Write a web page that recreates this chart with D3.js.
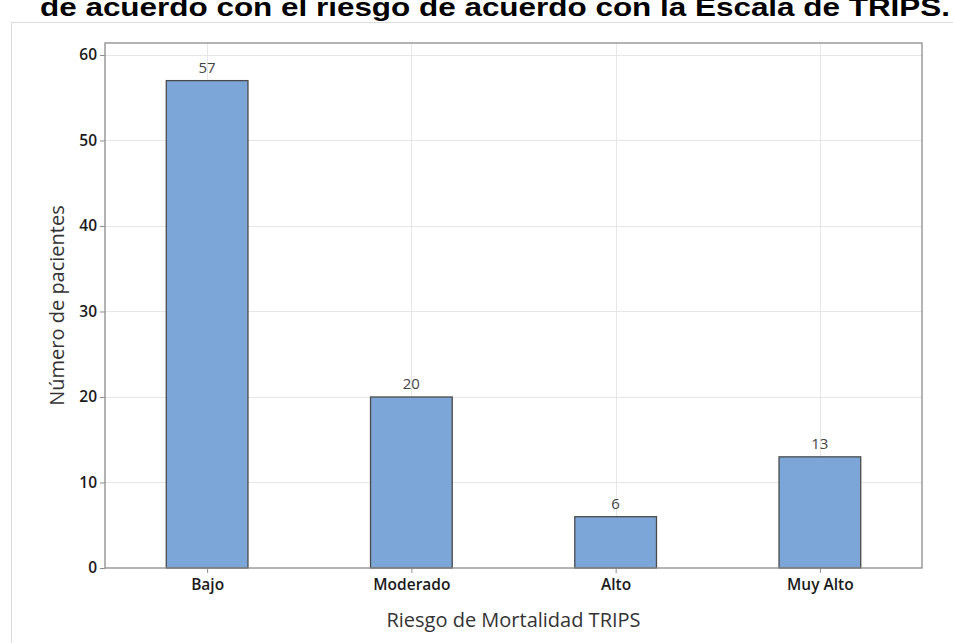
<!DOCTYPE html>
<html>
<head>
<meta charset="utf-8">
<script src="https://cdn.jsdelivr.net/npm/d3@7"></script>
<style>
  html, body { margin: 0; padding: 0; background: #fff; }
  svg { display: block; }
</style>
</head>
<body>
<svg id="chart" width="953" height="643"></svg>
<script>
// Patients per TRIPS mortality-risk category
const categories = ["Bajo", "Moderado", "Alto", "Muy Alto"];
const patients = [57, 20, 6, 13];
const yTicks = [0, 10, 20, 30, 40, 50, 60];

const titleText = "de acuerdo con el riesgo de acuerdo con la Escala de TRIPS.";
const xTitle = "Riesgo de Mortalidad TRIPS";
const yTitle = "Número de pacientes";

const W = 953, H = 643;
const plot = { left: 105, right: 922, top: 43, bottom: 568 };
const uiFont = "'Open Sans', 'Noto Sans', sans-serif";

const svg = d3.select("#chart");

// Caption line (top of the text runs off the page)
svg.append("text")
  .attr("x", 40).attr("y", 16)
  .attr("font-family", "'Liberation Sans', Arial, sans-serif")
  .attr("font-weight", "bold")
  .attr("font-size", 25)
  .attr("fill", "#000")
  .attr("textLength", 910)
  .attr("lengthAdjust", "spacingAndGlyphs")
  .text(titleText);

// Outer graph frame
svg.append("rect")
  .attr("x", 11.5).attr("y", 22.5)
  .attr("width", W).attr("height", H)
  .attr("fill", "none")
  .attr("stroke", "#dcdcdc")
  .attr("stroke-width", 1);

const x = d3.scalePoint().domain(categories).range([plot.left, plot.right]).padding(0.5);
const step = x.step();
const barW = step * 0.4;
const y = d3.scaleLinear().domain([0, 61.4]).range([plot.bottom, plot.top]);

// Gridlines
const grid = svg.append("g").attr("stroke", "#e6e6e6").attr("stroke-width", 1);
grid.selectAll("line.h").data(yTicks.filter(t => t > 0)).join("line")
  .attr("x1", plot.left).attr("x2", plot.right)
  .attr("y1", d => Math.round(y(d)) + 0.5).attr("y2", d => Math.round(y(d)) + 0.5);
grid.selectAll("line.v").data(categories).join("line")
  .attr("x1", d => Math.round(x(d)) + 0.5).attr("x2", d => Math.round(x(d)) + 0.5)
  .attr("y1", plot.top).attr("y2", plot.bottom);

// Bars
svg.append("g").selectAll("rect").data(categories).join("rect")
  .attr("x", (d) => x(d) - barW / 2)
  .attr("y", (d, i) => y(patients[i]))
  .attr("width", barW)
  .attr("height", (d, i) => y(0) - y(patients[i]))
  .attr("fill", "#7ca6d8")
  .attr("stroke", "#4a4a4a")
  .attr("stroke-width", 1.3);

// Value labels
svg.append("g").selectAll("text").data(categories).join("text")
  .attr("x", d => x(d))
  .attr("y", (d, i) => y(patients[i]) - 8)
  .attr("text-anchor", "middle")
  .attr("font-family", uiFont)
  .attr("font-size", 15)
  .attr("fill", "#444")
  .text((d, i) => patients[i]);

// Plot border
svg.append("rect")
  .attr("x", plot.left).attr("y", plot.top)
  .attr("width", plot.right - plot.left).attr("height", plot.bottom - plot.top)
  .attr("fill", "none")
  .attr("stroke", "#8c8c8c")
  .attr("stroke-width", 1.3);

// Y axis
const yAxis = svg.append("g")
  .attr("transform", `translate(${plot.left},0)`)
  .call(d3.axisLeft(y).tickValues(yTicks).tickSize(5).tickPadding(3).tickFormat(d3.format("d")));
yAxis.select(".domain").remove();
yAxis.selectAll(".tick line").attr("stroke", "#8c8c8c");
yAxis.selectAll(".tick text")
  .attr("font-family", uiFont).attr("font-weight", 600)
  .attr("font-size", 15.5).attr("fill", "#1a1a1a");

// X axis
const xAxis = svg.append("g")
  .attr("transform", `translate(0,${plot.bottom})`)
  .call(d3.axisBottom(x).tickSize(5).tickPadding(6));
xAxis.select(".domain").remove();
xAxis.selectAll(".tick line").attr("stroke", "#8c8c8c");
xAxis.selectAll(".tick text")
  .attr("font-family", uiFont).attr("font-weight", 600)
  .attr("font-size", 15.5).attr("fill", "#1a1a1a");

// Axis titles
svg.append("text")
  .attr("x", (plot.left + plot.right) / 2).attr("y", 627)
  .attr("text-anchor", "middle")
  .attr("font-family", uiFont).attr("font-size", 20).attr("fill", "#333")
  .text(xTitle);

svg.append("text")
  .attr("transform", `translate(64,${(plot.top + plot.bottom) / 2}) rotate(-90)`)
  .attr("text-anchor", "middle")
  .attr("font-family", uiFont).attr("font-size", 20).attr("fill", "#333")
  .text(yTitle);
</script>
</body>
</html>
